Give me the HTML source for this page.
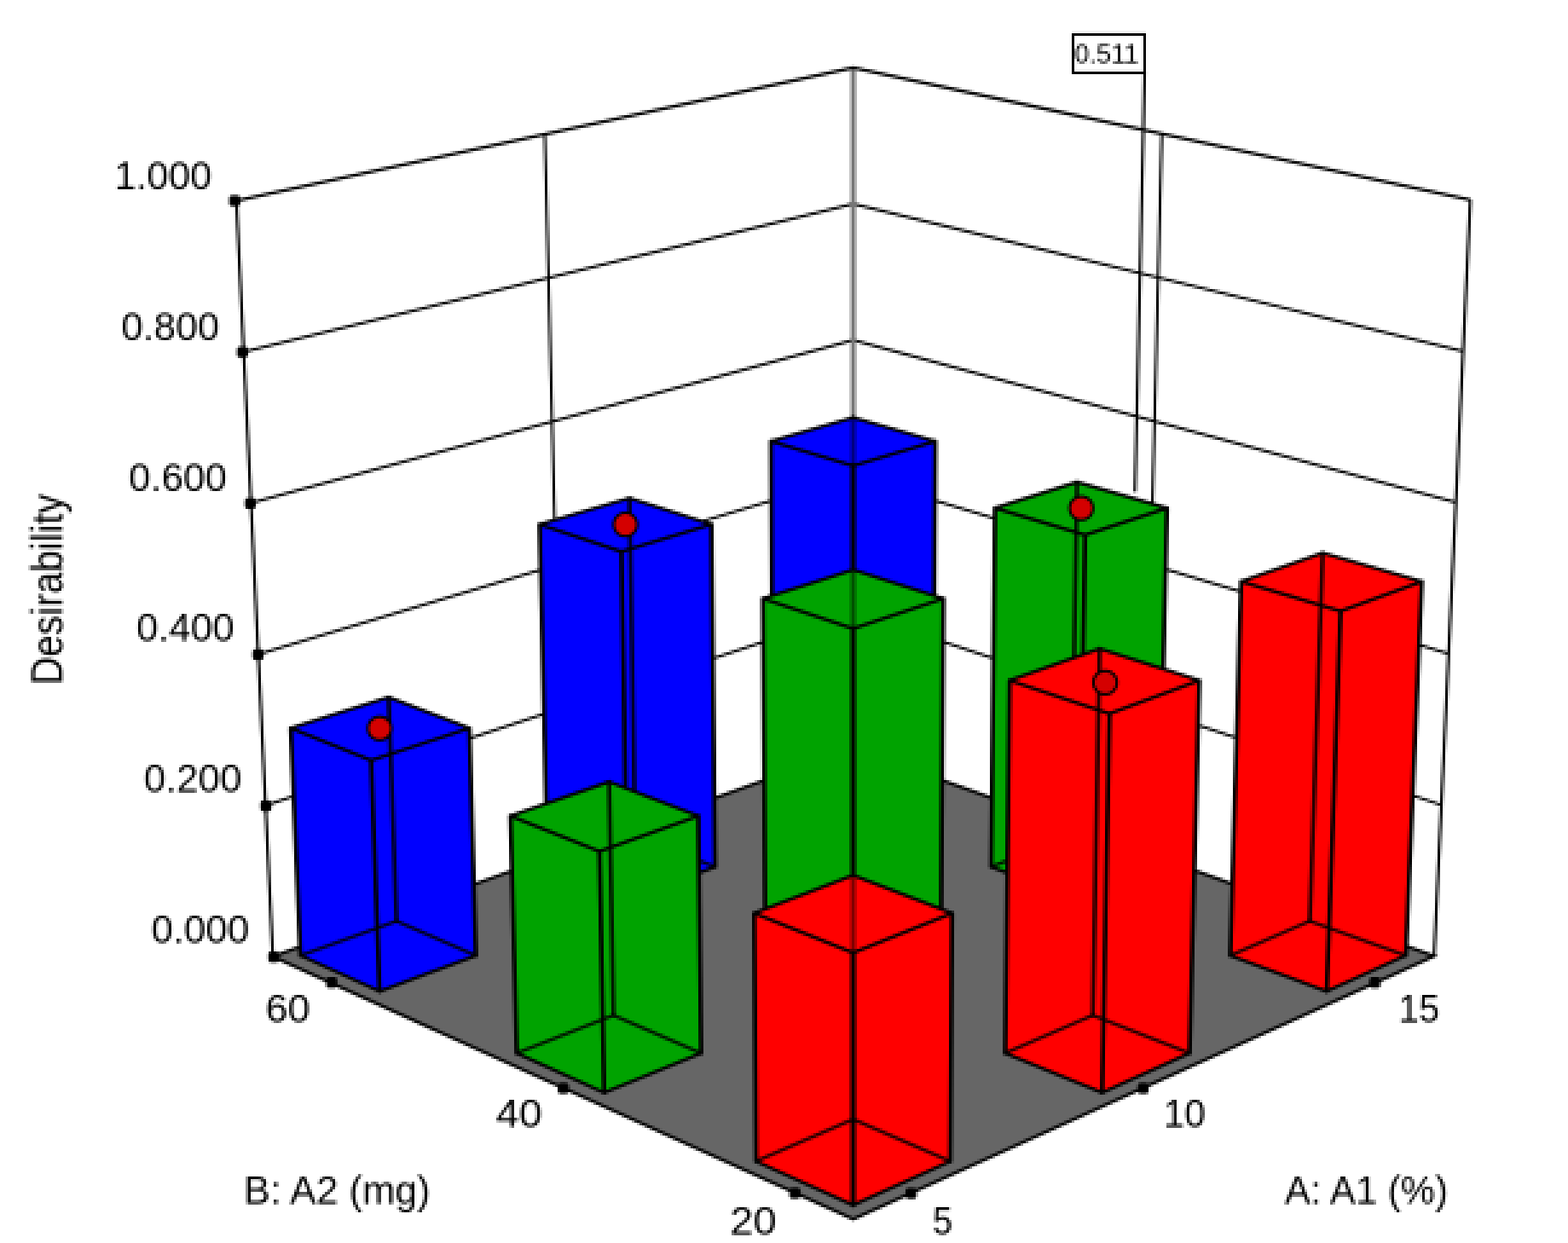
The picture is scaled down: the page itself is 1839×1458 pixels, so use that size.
<!DOCTYPE html>
<html lang="en">
<head>
<meta charset="utf-8">
<title>Desirability 3D bar plot</title>
<style>
html,body{margin:0;padding:0;background:#fff;}
body{width:1839px;height:1458px;overflow:hidden;}
svg{display:block;}
</style>
</head>
<body>
<svg width="1839" height="1458" viewBox="0 0 1839 1458">
<defs><filter id="soft" color-interpolation-filters="sRGB" x="0" y="0" width="1839" height="1458" filterUnits="userSpaceOnUse" primitiveUnits="userSpaceOnUse">
<feConvolveMatrix in="SourceGraphic" order="3" kernelMatrix="1 1 1 1 1 1 1 1 1" divisor="9" edgeMode="duplicate" preserveAlpha="false" result="avg"/>
<feFlood x="1" y="1" width="1" height="1" flood-color="#000" result="pt"/>
<feComposite in="pt" in2="pt" operator="over" x="0" y="0" width="3" height="3" result="cell"/>
<feTile in="cell" x="0" y="0" width="1839" height="1458" result="grid"/>
<feComposite in="avg" in2="grid" operator="in" result="samp"/>
<feMorphology in="samp" operator="dilate" radius="1" result="pix"/>
</filter></defs>
<rect width="1839" height="1458" fill="#fff"/>
<g filter="url(#soft)">
<rect width="1839" height="1458" fill="#fff"/>
<g id="walls" fill="none" stroke="#000" stroke-linecap="butt">
<polyline points="285.8,412.8 1000.7,239.2 1716,411.9" stroke-width="3.1" stroke="#000"/>
<polyline points="294.4,590.1 1000.7,398.9 1707.5,589.3" stroke-width="3.1" stroke="#000"/>
<polyline points="302.9,767.4 1000.7,558.6 1699,766.7" stroke-width="3.1" stroke="#000"/>
<polyline points="311.5,944.7 1000.7,718.3 1690.5,944.1" stroke-width="3.1" stroke="#000"/>
<line x1="639" y1="157.5" x2="660.4" y2="1000" stroke-width="3.1" stroke="#000"/>
<line x1="1362.6" y1="157" x2="1341.3" y2="999.8" stroke-width="3.1" stroke="#000"/>
<line x1="1000.7" y1="79.5" x2="1000.7" y2="878" stroke-width="6" stroke="#777"/>
<polyline points="277.3,235.5 1000.7,79.5 1724.5,234.5" stroke-width="3.8" stroke-linejoin="miter"/>
<line x1="277.3" y1="235.5" x2="320" y2="1122" stroke-width="3.4"/>
<line x1="1724.5" y1="234.5" x2="1682" y2="1121.5" stroke-width="3.4"/>
</g>
<line x1="1342.5" y1="85" x2="1331.2" y2="577" stroke="#000" stroke-width="3.3"/>
<polygon points="320,1122 1000.7,878 1682,1121.5 1000.7,1430" fill="#666666" stroke="#000" stroke-width="3.7" stroke-linejoin="miter"/>
<g id="ticks" fill="#000">
<rect x="268.8" y="229.1" width="13" height="13" rx="4"/>
<rect x="277.9" y="406.5" width="13" height="13" rx="4"/>
<rect x="287.1" y="583.9" width="13" height="13" rx="4"/>
<rect x="296.2" y="761.3" width="13" height="13" rx="4"/>
<rect x="305.4" y="938.7" width="13" height="13" rx="4"/>
<rect x="314.5" y="1116.1" width="13" height="13" rx="4"/>
<rect x="382.5" y="1146" width="13" height="13" rx="4"/>
<rect x="654.1" y="1270.1" width="13" height="13" rx="4"/>
<rect x="925.8" y="1392.9" width="13" height="13" rx="4"/>
<rect x="1062.1" y="1393.3" width="13" height="13" rx="4"/>
<rect x="1334.3" y="1270.1" width="13" height="13" rx="4"/>
<rect x="1606" y="1145.9" width="13" height="13" rx="4"/>
</g>
<g id="bars" stroke="#000" stroke-linejoin="round" stroke-linecap="round">
<g fill="#0000ff">
<polygon points="904.3,517.6 1000.6,489.8 1096.9,517.6 1094.5,921.9 1000.6,956.7 906.7,921.9" stroke="none"/>
<path d="M906.7,921.9 L1000.6,888.2 L1094.5,921.9" fill="none" stroke-width="4.0" stroke-opacity="0.85"/>
<path d="M1000.6,888.2 L1000.6,489.8" fill="none" stroke-width="6" stroke-opacity="0.5"/>
<path d="M904.3,517.6 L1000.6,489.8 L1096.9,517.6 L1000.6,546.3 Z M906.7,921.9 L1000.6,956.7 L1094.5,921.9" fill="none" stroke-width="4.0"/>
<path d="M904.3,517.6 L906.7,921.9 M1096.9,517.6 L1094.5,921.9" fill="none" stroke-width="5.0"/>
<path d="M1000.6,546.3 L1000.6,956.7" fill="none" stroke-width="6"/>
</g>
<g fill="#0000ff">
<polygon points="632.9,615.1 738.3,584.4 834.4,615.1 838.7,1016.8 735.9,1054.9 642.3,1016.8" stroke="none"/>
<path d="M642.3,1016.8 L744.9,980 L838.7,1016.8" fill="none" stroke-width="4.0" stroke-opacity="0.85"/>
<path d="M744.9,980 L738.3,584.4" fill="none" stroke-width="5.0" stroke-opacity="0.85"/>
<path d="M632.9,615.1 L738.3,584.4 L834.4,615.1 L728.8,647 Z M642.3,1016.8 L735.9,1054.9 L838.7,1016.8" fill="none" stroke-width="4.0"/>
<path d="M632.9,615.1 L642.3,1016.8 M834.4,615.1 L838.7,1016.8" fill="none" stroke-width="5.0"/>
<path d="M728.8,647 L735.9,1054.9" fill="none" stroke-width="5.0"/>
<circle cx="733.5" cy="615.3" r="13.8" fill="#d40000" stroke-width="3.2"/>
</g>
<g fill="#00a300">
<polygon points="1167,596 1263.2,565.5 1368.7,596 1358.9,1016.8 1265.3,1054.9 1162.5,1016.8" stroke="none"/>
<path d="M1162.5,1016.8 L1256.3,980 L1358.9,1016.8" fill="none" stroke-width="4.0" stroke-opacity="0.85"/>
<path d="M1256.3,980 L1263.2,565.5" fill="none" stroke-width="5.0" stroke-opacity="0.85"/>
<path d="M1167,596 L1263.2,565.5 L1368.7,596 L1272.7,627.5 Z M1162.5,1016.8 L1265.3,1054.9 L1358.9,1016.8" fill="none" stroke-width="4.0"/>
<path d="M1167,596 L1162.5,1016.8 M1368.7,596 L1358.9,1016.8" fill="none" stroke-width="5.0"/>
<path d="M1272.7,627.5 L1265.3,1054.9" fill="none" stroke-width="5.0"/>
<circle cx="1268.2" cy="596.1" r="13.8" fill="#d40000" stroke-width="3.2"/>
</g>
<g fill="#0000ff">
<polygon points="341,854.2 455.8,817.9 550.5,854.2 558.2,1120.8 445.2,1162.8 352.4,1120.8" stroke="none"/>
<path d="M352.4,1120.8 L465.1,1080.4 L558.2,1120.8" fill="none" stroke-width="4.0" stroke-opacity="0.85"/>
<path d="M465.1,1080.4 L455.8,817.9" fill="none" stroke-width="5.0" stroke-opacity="0.85"/>
<path d="M341,854.2 L455.8,817.9 L550.5,854.2 L435.3,891.8 Z M352.4,1120.8 L445.2,1162.8 L558.2,1120.8" fill="none" stroke-width="4.0"/>
<path d="M341,854.2 L352.4,1120.8 M550.5,854.2 L558.2,1120.8" fill="none" stroke-width="5.0"/>
<path d="M435.3,891.8 L445.2,1162.8" fill="none" stroke-width="5.0"/>
<circle cx="445.3" cy="854.4" r="13.8" fill="#d40000" stroke-width="3.2"/>
</g>
<g fill="#00a300">
<polygon points="894.8,702.1 1000.6,668.3 1106.4,702.1 1103.5,1120.8 1000.6,1162.8 897.7,1120.8" stroke="none"/>
<path d="M897.7,1120.8 L1000.6,1080.4 L1103.5,1120.8" fill="none" stroke-width="4.0" stroke-opacity="0.85"/>
<path d="M1000.6,1080.4 L1000.6,668.3" fill="none" stroke-width="6" stroke-opacity="0.5"/>
<path d="M894.8,702.1 L1000.6,668.3 L1106.4,702.1 L1000.6,737.3 Z M897.7,1120.8 L1000.6,1162.8 L1103.5,1120.8" fill="none" stroke-width="4.0"/>
<path d="M894.8,702.1 L897.7,1120.8 M1106.4,702.1 L1103.5,1120.8" fill="none" stroke-width="5.0"/>
<path d="M1000.6,737.3 L1000.6,1162.8" fill="none" stroke-width="6"/>
</g>
<g fill="#ff0000">
<polygon points="1455.7,682.1 1551.3,648.6 1667.5,682.1 1648.8,1120.8 1556,1162.8 1442.9,1120.8" stroke="none"/>
<path d="M1442.9,1120.8 L1536.1,1080.4 L1648.8,1120.8" fill="none" stroke-width="4.0" stroke-opacity="0.85"/>
<path d="M1536.1,1080.4 L1551.3,648.6" fill="none" stroke-width="5.0" stroke-opacity="0.85"/>
<path d="M1455.7,682.1 L1551.3,648.6 L1667.5,682.1 L1572.3,716.9 Z M1442.9,1120.8 L1556,1162.8 L1648.8,1120.8" fill="none" stroke-width="4.0"/>
<path d="M1455.7,682.1 L1442.9,1120.8 M1667.5,682.1 L1648.8,1120.8" fill="none" stroke-width="5.0"/>
<path d="M1572.3,716.9 L1556,1162.8" fill="none" stroke-width="5.0"/>
</g>
<g fill="#00a300">
<polygon points="598.7,957.1 714.4,917 819,957.1 822.3,1235.4 708.6,1281.7 606,1235.4" stroke="none"/>
<path d="M606,1235.4 L719.5,1190.8 L822.3,1235.4" fill="none" stroke-width="4.0" stroke-opacity="0.85"/>
<path d="M719.5,1190.8 L714.4,917" fill="none" stroke-width="5.0" stroke-opacity="0.85"/>
<path d="M598.7,957.1 L714.4,917 L819,957.1 L703.1,998.7 Z M606,1235.4 L708.6,1281.7 L822.3,1235.4" fill="none" stroke-width="4.0"/>
<path d="M598.7,957.1 L606,1235.4 M819,957.1 L822.3,1235.4" fill="none" stroke-width="5.0"/>
<path d="M703.1,998.7 L708.6,1281.7" fill="none" stroke-width="5.0"/>
</g>
<g fill="#ff0000">
<polygon points="1184.1,798.2 1289.7,760.8 1406.6,798.2 1395.2,1235.4 1292.6,1281.7 1178.9,1235.4" stroke="none"/>
<path d="M1178.9,1235.4 L1281.7,1190.8 L1395.2,1235.4" fill="none" stroke-width="4.0" stroke-opacity="0.85"/>
<path d="M1281.7,1190.8 L1289.7,760.8" fill="none" stroke-width="5.0" stroke-opacity="0.85"/>
<path d="M1184.1,798.2 L1289.7,760.8 L1406.6,798.2 L1301.3,837.1 Z M1178.9,1235.4 L1292.6,1281.7 L1395.2,1235.4" fill="none" stroke-width="4.0"/>
<path d="M1184.1,798.2 L1178.9,1235.4 M1406.6,798.2 L1395.2,1235.4" fill="none" stroke-width="5.0"/>
<path d="M1301.3,837.1 L1292.6,1281.7" fill="none" stroke-width="5.0"/>
<circle cx="1296.2" cy="800.6" r="13.8" fill="#d40000" stroke-width="3.2"/>
</g>
<g fill="#ff0000">
<polygon points="884.5,1071.2 1000.6,1026.7 1116.7,1071.2 1114.5,1362.2 1000.6,1413.6 886.7,1362.2" stroke="none"/>
<path d="M886.7,1362.2 L1000.6,1312.8 L1114.5,1362.2" fill="none" stroke-width="4.0" stroke-opacity="0.85"/>
<path d="M1000.6,1312.8 L1000.6,1026.7" fill="none" stroke-width="6" stroke-opacity="0.5"/>
<path d="M884.5,1071.2 L1000.6,1026.7 L1116.7,1071.2 L1000.6,1117.6 Z M886.7,1362.2 L1000.6,1413.6 L1114.5,1362.2" fill="none" stroke-width="4.0"/>
<path d="M884.5,1071.2 L886.7,1362.2 M1116.7,1071.2 L1114.5,1362.2" fill="none" stroke-width="5.0"/>
<path d="M1000.6,1117.6 L1000.6,1413.6" fill="none" stroke-width="6"/>
</g>
</g>
<rect x="1258.5" y="40.4" width="84" height="45" fill="#fff" stroke="#000" stroke-width="3.1"/>
<g id="labels" font-family="'Liberation Sans', sans-serif" fill="#000">
<text transform="translate(1260.25,73.80) scale(1.0000,1)" font-size="31">0.511</text>
<text transform="translate(134.33,222.20) scale(0.9913,1)" font-size="46">1.000</text>
<text transform="translate(142.33,398.92) scale(0.9982,1)" font-size="46">0.800</text>
<text transform="translate(151.11,575.64) scale(0.9982,1)" font-size="46">0.600</text>
<text transform="translate(159.89,752.36) scale(0.9982,1)" font-size="46">0.400</text>
<text transform="translate(168.67,929.08) scale(0.9982,1)" font-size="46">0.200</text>
<text transform="translate(177.45,1105.80) scale(0.9982,1)" font-size="46">0.000</text>
<text transform="translate(73.1,803.54) rotate(-90) scale(0.9967,1.1356)" font-size="46">Desirability</text>
<text transform="translate(286.03,1412.20) scale(1.0064,1)" font-size="46">B: A2 (mg)</text>
<text transform="translate(1506.78,1412.20) scale(0.9860,1)" font-size="46">A: A1 (%)</text>
<text transform="translate(311.48,1199.10) scale(1.0191,1)" font-size="46">60</text>
<text transform="translate(581.74,1321.80) scale(1.0584,1)" font-size="46">40</text>
<text transform="translate(856.27,1447.50) scale(1.0638,1)" font-size="46">20</text>
<text transform="translate(1094.11,1447.50) scale(0.9011,1)" font-size="46">5</text>
<text transform="translate(1364.74,1321.80) scale(0.9591,1)" font-size="46">10</text>
<text transform="translate(1640.21,1199.10) scale(0.9399,1)" font-size="46">15</text>
</g>
</g>
</svg>
</body>
</html>
